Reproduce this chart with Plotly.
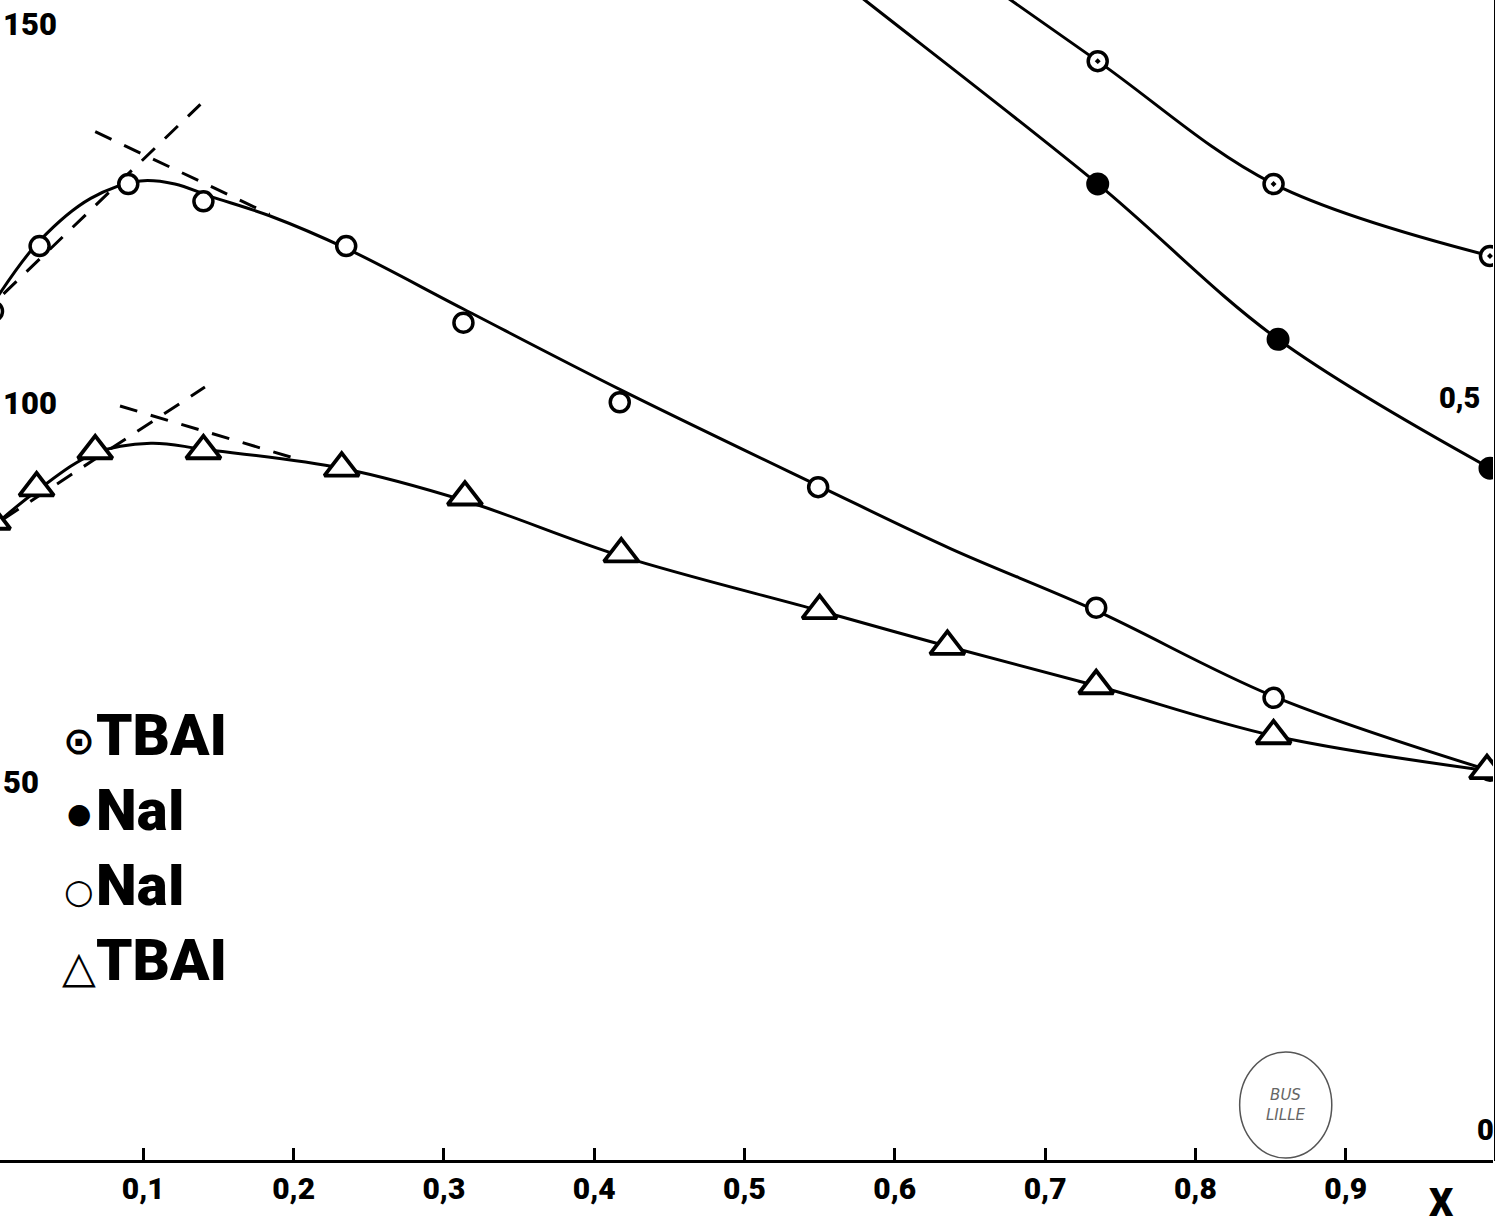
import plotly.graph_objects as go

W, H = 1495, 1230

# ---------------- data ----------------
x_tickvals = [0.1, 0.2, 0.3, 0.4, 0.5, 0.6, 0.7, 0.8, 0.9]
x_ticktext = ["0,1", "0,2", "0,3", "0,4", "0,5", "0,6", "0,7", "0,8", "0,9"]
y_tickvals = [50, 100, 150]
y_ticktext = ["50", "100", "150"]

# NaI, open circles
nai_open_x = [0.0, 0.031, 0.090, 0.140, 0.235, 0.313, 0.417, 0.549, 0.734, 0.852, 0.996]
nai_open_y = [112.1, 120.7, 128.9, 126.6, 120.7, 110.6, 100.1, 88.9, 73.0, 61.1, 51.5]
nai_open_curve_x = [0.003, 0.031, 0.065, 0.098, 0.121, 0.144, 0.184, 0.236, 0.313, 0.417, 0.549, 0.637, 0.734, 0.852, 0.996]
nai_open_curve_y = [114.0, 121.4, 127.0, 129.3, 128.9, 127.3, 124.7, 120.3, 112.4, 101.8, 89.1, 80.8, 72.6, 61.3, 51.5]

# TBAI, triangles
tbai_tri_x = [0.0, 0.029, 0.068, 0.140, 0.232, 0.314, 0.418, 0.550, 0.635, 0.734, 0.852, 0.994]
tbai_tri_y = [84.4, 88.8, 93.7, 93.7, 91.4, 87.6, 80.1, 72.6, 67.9, 62.7, 56.1, 51.5]
tbai_tri_curve_x = [0.003, 0.029, 0.068, 0.105, 0.140, 0.232, 0.314, 0.418, 0.550, 0.635, 0.734, 0.852, 0.994]
tbai_tri_curve_y = [84.2, 88.4, 93.4, 94.7, 93.9, 91.4, 87.1, 79.8, 72.6, 67.9, 62.7, 56.1, 51.5]

# TBAI, dotted circles
tbai_dot_x = [0.735, 0.852, 0.996]
tbai_dot_y = [145.1, 128.9, 119.4]
tbai_dot_curve_x = [0.628, 0.735, 0.852, 0.996]
tbai_dot_curve_y = [160.0, 145.1, 128.9, 119.4]

# NaI, filled circles
nai_fill_x = [0.735, 0.855, 0.996]
nai_fill_y = [128.9, 108.4, 91.4]
nai_fill_curve_x = [0.536, 0.581, 0.735, 0.855, 0.996]
nai_fill_curve_y = [160.0, 153.0, 128.9, 108.4, 91.4]

# dashed tangents near the maxima
tangents = [
    ([0.007, 0.138], [114.4, 139.4]),
    ([0.068, 0.184], [135.8, 124.9]),
    ([0.007, 0.141], [84.7, 102.1]),
    ([0.0845, 0.201], [99.6, 92.7]),
]

legend_symbols = ["⊙", "●", "○", "△"]
legend_labels = ["TBAI", "NaI", "NaI", "TBAI"]

# ---------------- figure ----------------
FONT = "Roboto"
fig = go.Figure()

LW = 3
for cx, cy in [(nai_open_curve_x, nai_open_curve_y), (tbai_tri_curve_x, tbai_tri_curve_y),
               (tbai_dot_curve_x, tbai_dot_curve_y), (nai_fill_curve_x, nai_fill_curve_y)]:
    fig.add_trace(go.Scatter(x=cx, y=cy, mode="lines",
                             line=dict(color="black", width=LW, shape="spline", smoothing=1.0),
                             hoverinfo="skip", showlegend=False))

for tx, ty in tangents:
    fig.add_trace(go.Scatter(x=tx, y=ty, mode="lines",
                             line=dict(color="black", width=LW, dash="18px,14px"),
                             hoverinfo="skip", showlegend=False))

fig.add_trace(go.Scatter(x=nai_open_x, y=nai_open_y, mode="markers",
                         marker=dict(symbol="circle", size=19, color="white",
                                     line=dict(color="black", width=3.5)),
                         showlegend=False))
fig.add_trace(go.Scatter(x=tbai_tri_x, y=tbai_tri_y, mode="markers",
                         marker=dict(symbol="triangle-up", size=30, color="white",
                                     line=dict(color="black", width=3.8)),
                         showlegend=False))
fig.add_trace(go.Scatter(x=tbai_dot_x, y=tbai_dot_y, mode="markers",
                         marker=dict(symbol="circle-dot", size=19, color="white",
                                     line=dict(color="black", width=3.5)),
                         showlegend=False))
fig.add_trace(go.Scatter(x=nai_fill_x, y=nai_fill_y, mode="markers",
                         marker=dict(symbol="circle", size=21, color="black",
                                     line=dict(color="black", width=2)),
                         showlegend=False))

# geometry of plot area
x_left_px, x_right_px = 0, 1493
px_per_x = 1503.0
x0_off = 7.0
xr = [(x_left_px + x0_off) / px_per_x, (x_right_px + x0_off) / px_per_x]
y0_px = 1161.0
px_per_y = 7.58
yr = [(y0_px - H) / px_per_y, y0_px / px_per_y]

fig.update_layout(
    width=W, height=H,
    margin=dict(l=0, r=0, t=0, b=0, pad=0, autoexpand=False),
    paper_bgcolor="white", plot_bgcolor="white",
    showlegend=False,
    xaxis=dict(range=xr, domain=[0, x_right_px / W], anchor="free",
               position=(H - y0_px) / H, automargin=False,
               showline=True, linecolor="black", linewidth=3,
               ticks="inside", ticklen=12, tickwidth=3, tickcolor="black",
               tickvals=x_tickvals, ticktext=x_ticktext,
               tickfont=dict(family=FONT, size=30, color="black", weight=900),
               showgrid=False, zeroline=False),
    yaxis=dict(range=yr, domain=[0, 1], showline=False, showgrid=False, zeroline=False,
               automargin=False,
               ticks="", tickvals=y_tickvals, ticktext=y_ticktext,
               ticklabelposition="inside",
               tickfont=dict(family=FONT, size=31, color="black", weight=900)),
)

# right-hand axis line and its labels
fig.add_shape(type="line", xref="paper", yref="paper",
              x0=1, x1=1, y0=(H - y0_px) / H, y1=1,
              line=dict(color="black", width=2))
for txt, ypx, xpx in [("0,5", 398, 1480), ("0", 1130, 1494)]:
    fig.add_annotation(x=xpx / x_right_px, y=1 - ypx / H, xref="paper", yref="paper",
                       text=txt, showarrow=False, xanchor="right", yanchor="middle",
                       font=dict(family=FONT, size=29, color="black", weight=900))

# axis letter
fig.add_annotation(x=1440 / x_right_px, y=1 - 1203 / H, xref="paper", yref="paper",
                   text="X", showarrow=False, xanchor="center", yanchor="middle",
                   font=dict(family=FONT, size=38, color="black", weight=900))

# in-plot legend
leg_y = [735, 810, 885, 960]
sym_size = [38, 28, 34, 44]
sym_dy = [6, 3, 6, 6]
for s, lab, ypx, ss, dy in zip(legend_symbols, legend_labels, leg_y, sym_size, sym_dy):
    fig.add_annotation(x=79 / x_right_px, y=1 - (ypx + dy) / H, xref="paper", yref="paper",
                       text="<b>" + s + "</b>", showarrow=False, xanchor="center", yanchor="middle",
                       font=dict(family="DejaVu Sans", size=ss, color="black"))
    fig.add_annotation(x=94 / x_right_px, y=1 - ypx / H, xref="paper", yref="paper",
                       text=lab, showarrow=False, xanchor="left", yanchor="middle",
                       font=dict(family=FONT, size=58, color="black", weight=900))

# library stamp
fig.add_shape(type="circle", xref="paper", yref="paper",
              x0=1238 / x_right_px, x1=1330 / x_right_px, y0=1 - 1158 / H, y1=1 - 1052 / H,
              line=dict(color="#555555", width=1.5))
fig.add_annotation(x=1284 / x_right_px, y=1 - 1105 / H, xref="paper", yref="paper",
                   text="<i>BUS<br>LILLE</i>", showarrow=False, align="center",
                   xanchor="center", yanchor="middle",
                   font=dict(family="DejaVu Sans", size=15, color="#666666"))

fig.write_html("out.html", config={"displayModeBar": False},
               post_script="document.body.style.margin='0';document.body.style.padding='0';")
